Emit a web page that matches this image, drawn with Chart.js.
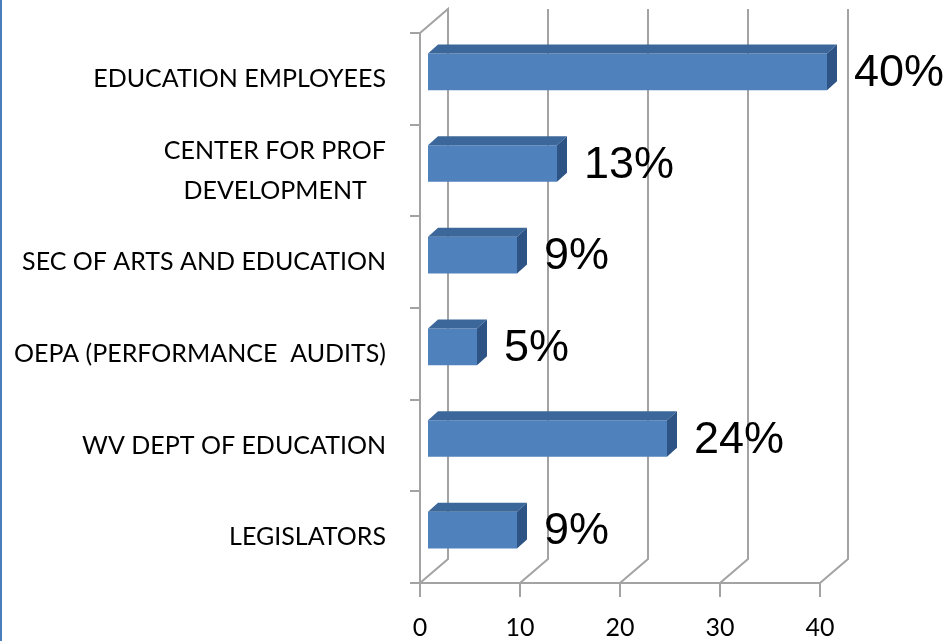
<!DOCTYPE html>
<html>
<head>
<meta charset="utf-8">
<script src="https://cdn.jsdelivr.net/npm/chart.js@4.4.1/dist/chart.umd.min.js"></script>
<style>
  body { margin: 0; background: #fff; }
  #wrap { position: relative; width: 947px; height: 641px; }
  #edge { position: absolute; left: 0; top: 0; width: 2px; height: 641px; background: #4a7ebb; }
</style>
</head>
<body>
<div id="wrap">
  <canvas id="chart" width="947" height="641"></canvas>
  <div id="edge"></div>
</div>
<script>
const categories = [
  "EDUCATION EMPLOYEES",
  ["CENTER FOR PROF", "DEVELOPMENT   "],
  "SEC OF ARTS AND EDUCATION",
  "OEPA (PERFORMANCE  AUDITS)",
  "WV DEPT OF EDUCATION",
  "LEGISLATORS"
];
const values = [40, 13, 9, 5, 24, 9];
const valueLabels = ["40%", "13%", "9%", "5%", "24%", "9%"];
const xTicks = [0, 10, 20, 30, 40];

// 3d look, in pixels
const WALL_DX = 28, WALL_DY = 24;   // depth of the back wall
const BAR_DX = 7, BAR_DY = 7;       // bars sit a bit back from the front plane
const FACE_DX = 10, FACE_DY = 9;    // depth of each bar
const gridColor = "#a3a3a3";
const labelSize = 45;

const depth3d = {
  id: "depth3d",
  beforeDatasetsDraw(chart) {
    const ctx = chart.ctx;
    const xs = chart.scales.x;
    const a = chart.chartArea;
    ctx.save();
    ctx.strokeStyle = gridColor;
    ctx.lineWidth = 2;
    xTicks.forEach((v) => {
      const px = xs.getPixelForValue(v);
      ctx.beginPath();
      ctx.moveTo(px, a.bottom);
      ctx.lineTo(px + WALL_DX, a.bottom - WALL_DY);
      ctx.lineTo(px + WALL_DX, a.top - WALL_DY);
      if (v === xTicks[0]) ctx.lineTo(px, a.top);
      ctx.stroke();
    });
    ctx.restore();

    // the bars get drawn shifted into the depth
    ctx.save();
    ctx.translate(BAR_DX, -BAR_DY);
  },
  afterDatasetsDraw(chart) {
    const ctx = chart.ctx;
    const meta = chart.getDatasetMeta(0);
    meta.data.forEach((bar, i) => {
      const p = bar.getProps(["x", "y", "base", "height"], true);
      const x0 = p.base, x1 = p.x;
      const yT = p.y - p.height / 2, yB = p.y + p.height / 2;

      ctx.fillStyle = "#3c679a";
      ctx.beginPath();
      ctx.moveTo(x0, yT);
      ctx.lineTo(x0 + FACE_DX, yT - FACE_DY);
      ctx.lineTo(x1 + FACE_DX, yT - FACE_DY);
      ctx.lineTo(x1, yT);
      ctx.closePath();
      ctx.fill();

      ctx.fillStyle = "#2e5486";
      ctx.beginPath();
      ctx.moveTo(x1, yT);
      ctx.lineTo(x1 + FACE_DX, yT - FACE_DY);
      ctx.lineTo(x1 + FACE_DX, yB - FACE_DY);
      ctx.lineTo(x1, yB);
      ctx.closePath();
      ctx.fill();

      ctx.fillStyle = "#000";
      ctx.font = labelSize + "px 'Liberation Sans', Arial, sans-serif";
      ctx.textAlign = "left";
      ctx.textBaseline = "alphabetic";
      ctx.fillText(valueLabels[i], x1 + 27, p.y - 2 + labelSize * 0.358);
    });
    ctx.restore();
  }
};

new Chart(document.getElementById("chart"), {
  type: "bar",
  data: {
    labels: categories,
    datasets: [{
      data: values,
      backgroundColor: "#4f81bd",
      borderWidth: 0,
      categoryPercentage: 1,
      barPercentage: 0.4
    }]
  },
  options: {
    responsive: false,
    animation: false,
    indexAxis: "y",
    layout: { padding: { left: 0, top: 33, right: 127, bottom: 0 } },
    plugins: {
      legend: { display: false },
      tooltip: { enabled: false }
    },
    scales: {
      x: {
        min: xTicks[0],
        max: xTicks[xTicks.length - 1],
        ticks: {
          stepSize: 10,
          color: "#000",
          font: { family: "Lato", size: 25, lineHeight: 1.2 },
          padding: 16
        },
        grid: { drawOnChartArea: false, tickLength: 14, color: gridColor, lineWidth: 2 },
        border: { display: true, color: gridColor, width: 2 },
        afterFit(s) { s.height = 58; }
      },
      y: {
        ticks: {
          color: "#000",
          font: { family: "Lato", size: 25, lineHeight: 1.6 },
          padding: 24
        },
        grid: { offset: true, drawOnChartArea: false, tickLength: 10, color: gridColor, lineWidth: 2 },
        border: { display: true, color: gridColor, width: 2 },
        afterFit(s) {
          s.width = 420;
          s.paddingTop = 0;
          s.paddingBottom = 0;
        }
      }
    }
  },
  plugins: [depth3d]
});
</script>
</body>
</html>
